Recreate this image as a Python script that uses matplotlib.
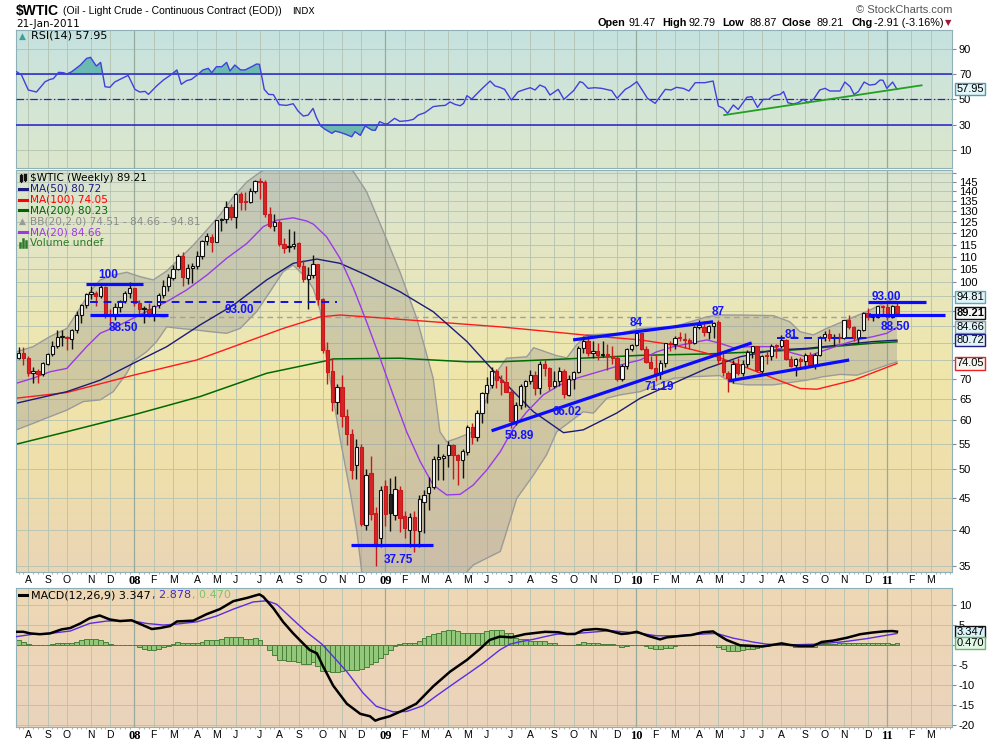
import numpy as np
import pandas as pd
import matplotlib
matplotlib.use("Agg")
import matplotlib.pyplot as plt
from matplotlib.colors import LinearSegmentedColormap
from matplotlib.lines import Line2D
from matplotlib.transforms import blended_transform_factory

W, H = 990, 744

# weekly $WTIC bars, first = week ending 27-Jul-2007, last = 21-Jan-2011
opens = [75.6, 77.0, 75.5, 71.5, 72.0, 71.1, 74.0, 76.7, 79.1, 81.6,
         81.7, 81.2, 83.7, 88.6, 91.9, 95.9, 96.3, 95.1, 98.2, 88.7,
         88.3, 91.3, 93.3, 96.0, 97.9, 92.7, 90.6, 90.7, 89.0, 91.8,
         95.5, 98.8, 101.8, 105.2, 110.2, 101.8, 105.6, 106.2, 110.1, 116.7,
         118.5, 116.3, 126.0, 126.3, 132.2, 127.4, 138.5, 134.9, 134.6, 140.2,
         145.3, 145.1, 128.9, 123.3, 125.1, 115.2, 113.8, 114.6, 115.5, 106.2,
         101.2, 102.7, 106.9, 93.9, 77.7, 71.9, 64.2, 67.8, 61.0, 57.0,
         50.9, 54.4, 40.7, 49.4, 42.6, 38.8, 47.1, 45.6, 42.3, 46.3,
         42.1, 40.0, 42.0, 39.8, 44.3, 45.9, 46.9, 52.0, 52.2, 52.7,
         54.7, 52.7, 51.8, 53.3, 58.6, 56.3, 61.7, 66.3, 68.4, 72.0,
         69.6, 69.2, 66.7, 59.9, 63.6, 68.1, 69.5, 70.9, 67.5, 73.9,
         72.7, 68.0, 69.3, 72.0, 66.0, 70.0, 71.8, 78.5, 80.5, 77.0,
         77.4, 76.4, 76.7, 76.1, 75.5, 69.9, 73.4, 78.1, 79.4, 82.8,
         78.0, 74.5, 72.9, 71.2, 74.1, 79.8, 79.7, 81.5, 81.2, 80.7,
         80.0, 84.9, 84.9, 83.2, 85.1, 86.2, 75.1, 71.6, 70.0, 74.0,
         71.5, 73.8, 77.2, 78.9, 72.1, 76.1, 76.0, 79.0, 79.0, 80.7,
         75.4, 73.5, 75.2, 74.6, 76.5, 73.7, 76.5, 81.6, 82.7, 81.3,
         81.7, 81.4, 86.9, 84.9, 81.5, 83.8, 89.2, 87.8, 88.0, 91.5,
         91.4, 88.0, 91.47]
highs = [78.8, 78.8, 76.0, 73.0, 72.5, 74.5, 77.0, 80.4, 83.9, 83.8,
         82.0, 84.0, 90.0, 92.2, 96.2, 98.6, 96.8, 99.3, 98.5, 90.5,
         92.5, 93.5, 97.0, 100.1, 98.0, 93.5, 91.5, 92.8, 92.0, 96.0,
         101.0, 103.1, 106.5, 111.0, 111.8, 107.0, 107.5, 112.2, 117.0, 119.9,
         119.5, 126.2, 127.0, 135.1, 133.5, 139.1, 139.9, 139.9, 142.0, 145.9,
         147.3, 146.0, 132.0, 128.6, 126.0, 118.0, 122.0, 121.0, 116.0, 108.5,
         106.0, 110.6, 107.0, 94.5, 80.3, 75.5, 68.5, 71.0, 62.5, 58.0,
         56.0, 55.0, 50.0, 52.5, 43.5, 47.0, 48.0, 48.5, 48.8, 47.0,
         42.8, 42.5, 42.8, 45.5, 46.4, 48.7, 52.6, 55.0, 53.0, 55.5,
         55.0, 53.0, 54.0, 59.0, 59.3, 62.3, 66.5, 70.3, 73.2, 72.5,
         71.0, 73.4, 67.5, 64.2, 68.5, 69.6, 72.3, 72.0, 74.7, 75.0,
         73.0, 72.0, 73.0, 72.5, 71.0, 72.0, 78.9, 82.0, 82.0, 80.5,
         80.0, 80.5, 79.5, 79.0, 76.0, 74.0, 78.5, 79.5, 83.5, 82.9,
         79.0, 76.0, 76.5, 75.0, 80.0, 80.5, 82.0, 83.2, 83.0, 81.5,
         85.0, 87.1, 86.5, 85.5, 86.2, 87.0, 77.6, 72.0, 75.0, 75.5,
         75.0, 77.8, 79.0, 79.0, 76.5, 77.5, 79.5, 79.5, 82.4, 81.0,
         76.0, 75.5, 75.8, 77.0, 77.3, 77.0, 82.0, 83.5, 84.0, 82.5,
         83.0, 87.0, 88.6, 85.0, 84.0, 89.5, 90.8, 89.0, 91.6, 91.8,
         92.6, 92.0, 92.79]
lows = [75.2, 73.5, 70.8, 69.0, 69.0, 70.8, 73.5, 76.0, 78.5, 79.0,
        77.9, 78.0, 83.0, 86.0, 91.0, 94.0, 91.5, 94.5, 87.5, 85.9,
        87.0, 89.5, 92.5, 94.5, 91.5, 88.8, 86.1, 88.0, 86.5, 91.0,
        94.5, 97.0, 101.0, 104.5, 98.7, 99.5, 99.6, 105.0, 109.0, 115.0,
        111.8, 116.0, 121.0, 124.5, 125.9, 122.3, 130.5, 130.8, 134.0, 139.0,
        136.2, 127.5, 122.5, 121.0, 114.6, 111.3, 112.0, 113.0, 105.5, 100.0,
        90.5, 101.5, 92.0, 77.0, 68.6, 62.0, 61.3, 58.5, 54.7, 48.3,
        48.3, 40.5, 40.0, 41.5, 35.0, 37.5, 40.5, 39.8, 41.5, 39.7,
        38.8, 37.5, 36.8, 37.5, 39.5, 43.0, 46.5, 48.0, 48.0, 50.5,
        48.3, 47.2, 48.5, 52.8, 55.0, 55.6, 59.5, 64.0, 67.6, 67.6,
        66.0, 66.5, 58.3, 59.0, 62.5, 63.0, 68.5, 66.0, 66.2, 70.6,
        67.1, 67.5, 68.0, 65.1, 65.6, 67.4, 71.5, 77.0, 76.0, 75.5,
        75.0, 75.8, 72.4, 74.0, 69.5, 69.5, 72.5, 77.5, 79.0, 77.8,
        74.2, 72.5, 69.5, 70.0, 73.0, 77.5, 78.0, 80.5, 78.5, 78.0,
        79.5, 84.0, 82.0, 81.0, 81.5, 74.0, 70.8, 66.7, 69.0, 71.0,
        70.8, 73.0, 75.5, 71.8, 71.5, 74.0, 75.0, 75.5, 78.5, 75.0,
        73.0, 70.8, 72.8, 72.6, 73.0, 72.5, 76.0, 80.5, 80.5, 79.0,
        80.0, 81.0, 84.0, 80.5, 80.0, 83.5, 87.0, 86.5, 87.5, 88.5,
        87.0, 87.5, 88.87]
closes = [77.02, 75.48, 71.47, 71.98, 71.09, 74.04, 76.70, 79.10, 81.62, 81.66,
          81.22, 83.69, 88.60, 91.86, 95.93, 96.32, 95.10, 98.18, 88.71, 88.28,
          91.27, 93.31, 96.00, 97.91, 92.69, 90.57, 90.71, 88.96, 91.77, 95.50,
          98.81, 101.84, 105.15, 110.21, 101.84, 105.62, 106.23, 110.14, 116.69, 118.52,
          116.32, 125.96, 126.29, 132.19, 127.35, 138.54, 134.86, 134.62, 140.21, 145.29,
          145.08, 128.88, 123.26, 125.10, 115.20, 113.77, 114.59, 115.46, 106.23, 101.18,
          102.70, 106.89, 93.88, 77.70, 71.85, 64.15, 67.81, 61.04, 57.04, 49.93,
          54.43, 40.81, 49.00, 42.36, 37.71, 46.34, 42.40, 42.60, 46.50, 41.70,
          40.20, 41.90, 40.00, 44.80, 45.50, 46.80, 52.00, 52.40, 52.60, 54.80,
          52.70, 51.80, 53.50, 58.60, 56.34, 61.67, 66.31, 68.44, 72.04, 69.55,
          69.16, 66.73, 59.89, 63.56, 68.05, 69.45, 70.93, 67.51, 73.89, 72.74,
          68.02, 69.29, 72.04, 66.02, 69.95, 71.77, 78.53, 80.50, 77.00, 77.43,
          76.35, 76.72, 76.05, 75.47, 69.87, 73.36, 78.05, 79.36, 82.75, 78.00,
          74.54, 72.89, 71.19, 74.13, 79.81, 79.66, 81.50, 81.24, 80.68, 80.00,
          84.87, 84.92, 83.24, 85.12, 86.15, 75.11, 71.61, 70.04, 73.97, 71.51,
          73.78, 77.18, 78.86, 72.14, 76.09, 76.01, 78.98, 78.95, 80.70, 75.39,
          73.46, 75.17, 74.60, 76.45, 73.66, 76.49, 81.58, 82.66, 81.25, 81.69,
          81.43, 86.85, 84.88, 81.51, 83.76, 89.19, 87.79, 88.02, 91.51, 91.38,
          88.03, 91.54, 89.21]

# overlays read at sample weeks (x = bar number)
ma20_x = [-0.5, 3.0, 6.5, 10.0, 14.1, 16.9, 21.0, 25.8, 30.7, 34.8,
          39.0, 43.1, 47.3, 50.7, 53.5, 56.9, 59.7, 61.1, 63.8, 66.6,
          69.4, 72.1, 74.9, 77.6, 80.4, 83.2, 85.9, 88.7, 91.5, 94.2,
          97.0, 99.8, 102.5, 105.3, 108.7, 112.2, 115.6, 119.1, 122.5, 126.0,
          128.8, 132.2, 135.7, 139.1, 142.6, 145.3, 148.1, 151.6, 156.4, 160.5,
          163.3, 166.1, 170.2, 173.7, 177.1, 179.9, 182.0]
ma20_y = [68.8, 70.1, 71.8, 72.7, 78.8, 82.8, 85.4, 89.2, 93.1, 97.2,
          102.7, 109.3, 115.5, 122.9, 125.9, 127.0, 125.5, 124.0, 118.4, 109.3,
          97.8, 86.4, 75.5, 65.9, 57.5, 51.5, 47.2, 45.5, 45.6, 47.2,
          49.9, 53.4, 58.2, 61.9, 65.9, 68.4, 70.1, 71.4, 72.7, 74.1,
          75.0, 77.3, 78.8, 79.8, 80.8, 79.8, 78.5, 78.8, 78.8, 76.9,
          75.9, 77.3, 79.3, 80.8, 81.8, 82.8, 84.66]
ma50_x = [-0.5, 10.0, 16.9, 23.8, 30.7, 37.6, 44.5, 51.4, 56.9, 61.8,
          66.6, 72.1, 79.0, 85.9, 92.9, 99.8, 106.7, 112.9, 117.0, 123.9,
          128.8, 135.7, 142.6, 149.5, 156.4, 163.3, 170.2, 177.1, 182.0]
ma50_y = [63.9, 66.7, 69.6, 74.1, 78.8, 85.4, 91.9, 100.9, 107.3, 109.0,
          107.3, 102.7, 96.6, 89.7, 80.3, 70.1, 61.9, 57.3, 57.9, 61.6,
          65.1, 68.8, 72.7, 75.9, 77.8, 78.3, 79.3, 80.3, 80.72]
ma100_x = [-0.5, 10.0, 23.8, 36.9, 44.5, 54.8, 62.5, 66.6, 72.1, 85.9, 99.8,
           113.6, 120.5, 128.8, 135.7, 142.6, 149.5, 156.4, 161.9, 165.4, 173.0, 182.0]
ma100_y = [65.1, 66.5, 70.9, 75.0, 78.8, 84.3, 88.0, 88.6, 88.0, 86.4, 84.8,
           82.8, 81.8, 80.8, 79.3, 76.9, 73.6, 70.1, 67.5, 67.3, 69.6, 74.05]
ma200_x = [-0.5, 10.0, 23.8, 37.6, 51.4, 63.8, 65.2, 79.0, 92.9, 99.8,
           113.6, 128.8, 142.6, 156.4, 163.3, 170.2, 177.0, 182.0]
ma200_y = [54.9, 57.5, 61.2, 65.5, 71.4, 74.8, 75.3, 75.5, 74.5, 74.5,
           75.3, 76.3, 76.7, 77.5, 78.1, 79.0, 79.8, 80.23]
bb_up_x = [-0.5, 3.0, 6.5, 10.0, 12.7, 14.8, 16.9, 19.6, 22.4, 25.2,
           27.9, 30.7, 33.4, 36.2, 39.0, 41.7, 44.5, 47.3, 50.0, 52.5,
           56.0, 60.0, 64.0, 67.0, 69.4, 72.1, 75.6, 79.0, 82.5, 85.9,
           87.3, 88.7, 90.8, 94.2, 97.0, 99.1, 101.1, 105.3, 106.7, 111.5,
           113.6, 115.6, 117.7, 124.6, 128.8, 135.7, 142.6, 145.3, 149.5, 156.4,
           159.8, 161.9, 164.7, 167.4, 171.6, 175.7, 178.5, 182.0]
bb_up_y = [77.3, 78.8, 81.8, 84.3, 90.8, 96.6, 100.9, 102.7, 103.8, 102.1,
           100.9, 104.3, 109.3, 114.8, 121.4, 128.3, 137.3, 145.1, 150.3, 154.0,
           155.0, 154.0, 156.0, 155.0, 150.6, 139.9, 120.6, 104.0, 87.5, 70.1,
           57.5, 55.4, 56.1, 57.5, 65.1, 71.8, 75.5, 75.9, 78.5, 76.2,
           75.6, 79.3, 82.3, 82.8, 84.3, 84.8, 88.0, 88.6, 88.6, 88.4,
           86.4, 83.3, 82.3, 84.3, 87.0, 89.7, 91.9, 94.81]
bb_lo_x = [-0.5, 3.0, 6.5, 10.0, 13.4, 16.9, 19.6, 22.4, 23.7, 26.5,
           28.6, 30.7, 33.4, 36.9, 39.7, 43.1, 45.9, 49.3, 52.1, 54.8,
           56.9, 59.7, 61.1, 62.5, 63.8, 65.2, 66.6, 68.7, 70.1, 71.1,
           74.0, 80.0, 86.0, 91.0, 94.2, 97.0, 99.8, 101.1, 103.2, 106.7,
           109.4, 111.5, 117.0, 119.1, 121.9, 124.6, 128.8, 135.7, 139.8, 145.3,
           148.1, 150.9, 156.4, 163.3, 166.7, 170.2, 173.7, 177.1, 179.9, 182.0]
bb_lo_y = [57.9, 59.3, 60.8, 62.3, 64.3, 64.7, 66.7, 71.4, 74.6, 77.3,
           80.3, 84.8, 84.3, 83.8, 83.3, 82.8, 84.3, 89.7, 96.6, 104.0,
           106.6, 101.5, 97.5, 90.0, 75.5, 65.1, 56.1, 46.0, 39.7, 34.2,
           31.0, 29.0, 30.0, 33.0, 35.1, 36.0, 36.9, 39.7, 44.9, 49.0,
           52.8, 57.5, 61.9, 61.6, 65.1, 65.9, 66.7, 70.1, 70.5, 70.8,
           68.8, 68.4, 68.4, 69.6, 70.5, 71.1, 70.9, 72.3, 73.6, 74.51]

rsi_x = [-0.4, 0.6, 2.0, 3.7, 5.5, 6.5, 7.2, 8.3, 9.3, 10.0,
         11.0, 12.8, 14.1, 14.9, 16.1, 17.0, 17.9, 18.9, 19.9, 21.3,
         22.7, 24.1, 25.1, 26.2, 26.9, 28.6, 30.0, 31.4, 32.8, 33.7,
         34.8, 35.8, 36.9, 38.2, 39.3, 40.0, 41.0, 42.1, 43.1, 43.8,
         44.8, 46.0, 46.9, 48.3, 49.3, 49.9, 50.9, 51.8, 52.8, 54.0,
         55.5, 56.9, 57.9, 59.0, 60.0, 61.0, 61.7, 62.6, 63.5, 64.9,
         65.6, 66.6, 67.6, 69.0, 69.7, 70.8, 71.8, 73.2, 73.9, 74.8,
         75.9, 76.5, 77.9, 79.0, 80.7, 81.8, 82.8, 84.2, 85.9, 87.3,
         88.4, 89.4, 90.4, 91.5, 92.2, 92.9, 93.9, 94.9, 96.3, 97.7,
         98.7, 99.7, 100.7, 102.1, 103.5, 104.9, 106.0, 107.0, 108.0, 109.1,
         110.1, 111.8, 113.0, 115.0, 116.3, 116.9, 118.0, 119.4, 120.8, 122.9,
         124.0, 125.7, 126.7, 128.1, 130.3, 131.9, 134.0, 135.2, 136.3, 137.7,
         138.9, 140.2, 142.2, 143.9, 145.0, 146.0, 146.9, 148.1, 149.1, 150.9,
         151.9, 153.1, 154.3, 155.4, 156.4, 157.8, 158.5, 159.4, 160.5, 161.5,
         162.6, 163.6, 164.8, 166.0, 167.1, 168.1, 170.2, 171.2, 172.3, 173.1,
         174.0, 175.2, 176.3, 177.5, 178.5, 179.1, 179.9, 181.1, 182.0]
rsi_y = [71.9, 69.3, 57.4, 55.8, 64.0, 65.8, 66.4, 71.4, 71.1, 70.1,
         71.9, 77.2, 82.5, 83.3, 76.4, 79.3, 60.0, 59.5, 63.7, 66.4,
         69.0, 57.9, 55.8, 56.3, 53.9, 60.6, 65.3, 69.0, 73.3, 61.9,
         64.8, 65.8, 69.0, 73.3, 74.6, 71.1, 75.9, 75.9, 79.3, 72.5,
         77.2, 73.3, 73.3, 75.9, 78.0, 77.8, 57.9, 53.9, 53.7, 45.7,
         45.2, 46.5, 40.7, 36.7, 37.5, 42.8, 35.7, 28.8, 26.2, 23.0,
         24.8, 23.8, 22.5, 20.3, 24.3, 21.4, 28.8, 25.6, 25.4, 32.3,
         30.4, 30.7, 34.9, 32.5, 33.1, 34.1, 37.5, 39.4, 44.2, 44.9,
         45.2, 47.9, 46.0, 44.9, 46.8, 52.9, 50.2, 54.2, 59.5, 64.5,
         60.6, 59.5, 57.9, 49.4, 56.0, 57.9, 59.2, 57.4, 61.3, 59.5,
         53.4, 57.9, 50.0, 56.9, 64.0, 63.2, 58.7, 59.2, 58.7, 56.9,
         50.8, 57.9, 60.0, 64.0, 50.8, 46.8, 57.9, 57.4, 59.5, 58.7,
         56.6, 63.2, 63.2, 64.5, 44.7, 42.9, 38.9, 45.5, 42.0, 51.6,
         52.1, 43.6, 50.0, 50.0, 52.9, 53.9, 56.1, 47.3, 46.3, 47.3,
         50.0, 47.3, 50.5, 57.4, 58.7, 56.6, 56.6, 63.7, 60.0, 53.9,
         56.1, 63.7, 61.3, 61.9, 65.3, 65.1, 58.7, 63.7, 57.95]

macd_x = [-0.4, 1.0, 2.4, 4.4, 6.5, 8.9, 10.7, 12.8, 14.7, 16.8,
          18.9, 21.0, 23.4, 25.2, 27.6, 29.3, 31.4, 32.8, 36.2, 38.9,
          41.7, 44.5, 47.3, 49.0, 49.9, 50.7, 52.8, 54.8, 56.9, 58.6,
          60.3, 61.8, 63.1, 65.2, 68.0, 70.8, 72.8, 73.9, 74.8, 76.9,
          79.7, 82.4, 85.9, 89.4, 92.9, 95.5, 97.6, 99.7, 102.1, 104.9,
          109.1, 111.8, 113.6, 115.3, 117.0, 119.7, 121.8, 124.9, 126.3, 128.1,
          130.5, 132.9, 134.3, 137.0, 139.4, 141.8, 143.9, 145.0, 146.7, 149.5,
          151.6, 154.0, 155.7, 158.1, 159.8, 161.8, 164.6, 166.4, 168.8, 171.6,
          174.4, 176.8, 179.2, 181.0, 182.0]
macd_y = [3.3, 3.3, 2.9, 2.7, 2.9, 3.9, 4.25, 5.4, 6.7, 7.4,
          6.4, 6.0, 6.2, 5.25, 4.0, 4.25, 4.75, 5.9, 6.1, 7.7,
          9.0, 11.0, 11.8, 12.4, 12.7, 12.1, 9.2, 5.8, 2.9, 0.8,
          -1.25, -2.1, -5.4, -10.25, -14.75, -17.3, -17.9, -19.0, -18.6, -17.9,
          -16.4, -14.75, -10.4, -6.7, -3.75, -1.1, 1.25, 2.1, 1.9, 2.7,
          3.3, 3.2, 2.75, 2.75, 3.75, 4.0, 3.75, 2.75, 2.9, 3.3,
          2.25, 1.4, 1.9, 2.25, 2.5, 3.2, 3.4, 2.5, 1.25, -0.1,
          -0.2, -0.4, -0.1, 0.4, 0.0, -0.25, -0.25, 0.75, 1.1, 1.8,
          2.7, 3.1, 3.4, 3.5, 3.347]
sig_x = [-0.4, 3.0, 6.5, 10.7, 14.7, 18.2, 23.4, 26.5, 30.0, 32.8,
         36.9, 41.0, 44.5, 48.6, 51.4, 53.5, 56.2, 59.6, 62.8, 65.2,
         68.0, 71.4, 74.1, 77.6, 80.4, 83.8, 86.6, 90.1, 93.5, 96.2,
         99.7, 101.8, 103.9, 106.6, 109.1, 111.5, 115.6, 119.7, 122.5, 125.3,
         128.8, 132.2, 136.3, 141.2, 144.6, 148.1, 152.3, 155.0, 159.1, 165.3,
         170.9, 175.8, 182.0]
sig_y = [2.1, 2.7, 2.9, 3.5, 5.4, 6.0, 6.1, 5.4, 5.0, 5.25,
         5.8, 7.25, 9.0, 10.8, 11.1, 10.2, 7.1, 3.3, 0.25, -2.9,
         -6.7, -12.1, -15.4, -16.8, -16.7, -15.25, -12.75, -9.75, -6.9, -4.6,
         -1.25, 0.2, 0.8, 1.4, 2.1, 2.7, 2.9, 3.3, 3.6, 3.3,
         2.9, 2.3, 2.3, 2.7, 2.9, 1.7, 0.7, 0.2, 0.0, 0.2,
         0.8, 1.6, 2.878]
hist = [1.2, 0.75, 0.3, 0, -0.05, 0, 0.05, 0.15, 0.4, 0.4,
        0.5, 0.5, 0.75, 1.2, 1.5, 1.6, 1.6, 1.3, 0.75, 0.3,
        0.1, -0.1, 0, 0, -0.1, -0.5, -1.1, -1.3, -1.3, -1.0,
        -0.5, -0.2, 0.3, 0.7, 0.4, 0.4, 0.4, 0.4, 0.75, 1.2,
        1.2, 1.3, 1.6, 1.9, 1.9, 1.9, 1.9, 1.5, 1.5, 1.7,
        1.3, 0, -1.3, -2.5, -3.8, -3.8, -4.1, -4.1, -4.3, -4.7,
        -4.7, -4.4, -5.25, -6.5, -6.5, -6.9, -6.9, -6.5, -6.3, -6.3,
        -6.3, -6.1, -5.5, -4.8, -4.2, -3.3, -2.3, -1.3, -0.3, 0.2,
        0.6, 0.6, 0.6, 1.0, 1.7, 2.25, 2.7, 3.1, 3.5, 3.7,
        3.7, 3.5, 3.1, 3.1, 3.1, 3.1, 3.1, 3.5, 3.7, 3.7,
        3.7, 3.1, 3.1, 1.7, 1.4, 1.4, 1.0, 1.0, 1.0, 1.0,
        0.5, 0.5, 0.1, -0.1, -0.1, -0.1, 0.2, 0.7, 0.5, 0.5,
        0.4, 0.25, 0.25, 0.25, -0.1, -0.5, -0.25, 0.1, 0.1, 0.0,
        -0.25, -0.7, -1.1, -1.1, -0.7, -0.7, -0.3, -0.1, 0.1, 0.1,
        0.1, 0.1, 0.1, 0.1, 0.1, -0.4, -1.1, -1.6, -1.6, -1.6,
        -1.3, -0.9, -0.9, -0.75, -0.3, -0.3, 0.1, 0.1, 0.1, 0.1,
        0.1, -0.4, -0.4, -0.4, -0.4, -0.4, 0.3, 0.3, 0.3, 0.3,
        0.5, 0.5, 0.5, 0.5, 0.5, 0.6, 0.6, 0.6, 0.6, 0.6,
        0.6, 0.3, 0.47]

# hand-drawn annotations: (x0, y0, x1, y1)
solid_lines = [(14.0, 99.5, 25.8, 99.5), (14.8, 88.5, 31.0, 88.5), (68.9, 37.75, 85.9, 37.75),
               (98.0, 57.7, 151.9, 79.9), (114.9, 80.8, 143.9, 86.4), (147.1, 69.4, 172.1, 75.0),
               (175.9, 93.0, 188.0, 93.0), (175.9, 88.5, 192.0, 88.5)]
dashed_lines = [(14.8, 93.0, 66.0, 93.0), (157.1, 81.4, 175.9, 81.4)]
notes = [("100", 18.5, 102.7), ("88.50", 21.7, 84.3), ("93.00", 45.7, 90.3), ("37.75", 78.7, 35.8),
         ("59.89", 103.7, 56.5), ("66.02", 113.6, 61.9), ("84", 127.9, 85.9), ("71.19", 132.7, 67.9),
         ("87", 145.0, 89.7), ("81", 160.1, 82.3), ("93.00", 179.7, 94.8), ("88.50", 181.6, 84.7)]

x = np.arange(len(closes))
o, h, l, c = map(np.array, (opens, highs, lows, closes))

# month ticks: first weekly bar that starts inside the month
weeks = pd.date_range("2007-07-27", periods=200, freq="W-FRI")
tick_pos, tick_lab, seen = [], [], set()
for k, d in enumerate(weeks):
    if k < 1 or k > 191:
        continue
    if d.day >= 5 and (d.year, d.month) not in seen:
        seen.add((d.year, d.month))
        tick_pos.append(k)
        tick_lab.append("%02d" % (d.year % 100) if d.month == 1 else "JFMAMJJASOND"[d.month - 1])
year_pos = [p for p, s in zip(tick_pos, tick_lab) if s.isdigit()]

fig = plt.figure(figsize=(W / 100, H / 100), dpi=100)
L, R = 16, 952
GRID = "#b4c2b0"
FRAME = "#8fb0b6"


def panel(top, bottom, colors):
    pos = [L / W, 1 - bottom / H, (R - L) / W, (bottom - top) / H]
    bg = fig.add_axes(pos, zorder=0)
    grad = np.linspace(0, 1, 256).reshape(-1, 1)
    bg.imshow(grad, aspect="auto", cmap=LinearSegmentedColormap.from_list("g", colors),
              extent=[0, 1, 0, 1], origin="upper")
    bg.set_axis_off()
    ax = fig.add_axes(pos, zorder=1)
    ax.patch.set_alpha(0)
    ax.set_xlim(-0.54, 193.4)
    ax.set_xticks(tick_pos)
    ax.set_xticks(np.arange(0, 194), minor=True)
    ax.grid(True, color=GRID, lw=0.6)
    ax.set_axisbelow(True)
    for p in year_pos:
        ax.axvline(p, color="#97ab9c", lw=0.9, zorder=0.6)
    for s in ax.spines.values():
        s.set_color(FRAME)
    ax.yaxis.tick_right()
    ax.tick_params(axis="y", length=3, pad=2, labelsize=8, color="#888888")
    ax.tick_params(axis="x", which="major", length=0, pad=2.5, labelsize=7.5)
    ax.tick_params(axis="x", which="minor", length=1.5, width=0.8, color="#9fb5bb")
    for t in ax.get_yticklabels():
        t.set_fontfamily("Liberation Sans")
    return ax


def tag(ax, y, text, fc, ec, bold=False):
    tr = blended_transform_factory(ax.transAxes, ax.transData)
    ax.text(1.0045, y, text, transform=tr, ha="left", va="center", fontsize=8,
            family="Liberation Sans", fontweight="bold" if bold else "normal",
            bbox=dict(boxstyle="square,pad=0.1", fc=fc, ec=ec, lw=1), clip_on=False, zorder=20)


def month_labels(ax):
    ax.set_xticklabels(tick_lab)
    for t, s in zip(ax.get_xticklabels(), tick_lab):
        t.set_fontfamily("Liberation Serif" if s.isdigit() else "Liberation Sans")
        if s.isdigit():
            t.set_fontweight("bold")
            t.set_fontsize(9)


def icon_line(x0, x1, y0, y1, col, lw):
    fig.add_artist(Line2D([x0 / W, x1 / W], [1 - y0 / H, 1 - y1 / H], color=col, lw=lw, zorder=30))


# ---- RSI panel ----
ax_r = panel(30, 168, ["#c5e2e0", "#d2e5d6", "#dbe7cc"])
ax_r.set_ylim(-4.5, 105)
ax_r.set_yticks([10, 30, 50, 70, 90])
ax_r.set_yticklabels(["10", "30", "50", "70", "90"])
ax_r.set_xticklabels([])
ax_r.tick_params(axis="x", which="minor", length=0)
ry = np.array(rsi_y)
ax_r.fill_between(rsi_x, ry, 70, where=ry >= 70, interpolate=True, color="#6cb9b2", lw=0, zorder=2)
ax_r.fill_between(rsi_x, ry, 30, where=ry <= 30, interpolate=True, color="#6cb9b2", lw=0, zorder=2)
ax_r.axhline(70, color="#2222cc", lw=1.1, zorder=3)
ax_r.axhline(30, color="#2222cc", lw=1.1, zorder=3)
ax_r.axhline(50, color="#2222cc", lw=0.9, ls=(0, (6, 2, 1, 2)), zorder=3)
ax_r.plot(rsi_x, ry, color="#4040dd", lw=1, zorder=4)
ax_r.plot([146.2, 187.1], [37.5, 61.1], color="#22a022", lw=1.3, zorder=5)
tag(ax_r, 57.95, "57.95", "#e2f5f8", "#4aa0b0")
fig.text(19 / W, 1 - 36 / H, "\u25B2", fontsize=6.5, color="#3f9f9a", va="center", zorder=30)
fig.text(31.5 / W, 1 - 36 / H, "RSI(14) 57.95", fontsize=8, va="center",
         family="DejaVu Sans", zorder=30)

# ---- price panel ----
ax_p = panel(170, 572, ["#d9e4d1", "#e6e6c0", "#f0e6aa", "#efdfac", "#ead5b5"])
ax_p.set_yscale("log")
ax_p.set_ylim(34.2, 151.6)
pt = list(range(35, 151, 5))
ax_p.set_yticks(pt)
ax_p.set_yticklabels([str(v) if (v <= 70 or 100 <= v <= 145) else "" for v in pt])
ax_p.yaxis.set_minor_locator(matplotlib.ticker.NullLocator())
month_labels(ax_p)

ax_p.fill(np.r_[bb_up_x, bb_lo_x[::-1]], np.r_[bb_up_y, bb_lo_y[::-1]],
          color="#8f8f8f", alpha=0.33, lw=0, zorder=1)
ax_p.plot(bb_up_x, bb_up_y, color="#9a9a9a", lw=1, zorder=1.5)
ax_p.plot(bb_lo_x, bb_lo_y, color="#9a9a9a", lw=1, zorder=1.5)
ax_p.plot([29.3, 176.4], [87.8, 87.8], color="#a0a0a0", lw=1, ls=(0, (4, 3)), zorder=1.6)
ax_p.plot(ma200_x, ma200_y, color="#006a00", lw=1.1, zorder=2)
ax_p.plot(ma100_x, ma100_y, color="#ff1a1a", lw=1, zorder=2)
ax_p.plot(ma50_x, ma50_y, color="#1c1c78", lw=1, zorder=2)
ax_p.plot(ma20_x, ma20_y, color="#9a3ae6", lw=1, zorder=2)

prev = np.r_[o[0], c[:-1]]
edge = np.where(c < prev, "#c8181c", "#111111")
fill = np.where(c > o, "white", np.where(c < prev, "#d42424", "#222222"))
ax_p.vlines(x, l, h, colors=edge, lw=1, zorder=3)
bot = np.minimum(o, c)
top = np.maximum(np.maximum(o, c), bot * 1.004)
ax_p.bar(x, top - bot, bottom=bot, width=0.68, color=fill, edgecolor=edge, lw=0.8, zorder=4)

for x0, y0, x1, y1 in solid_lines:
    ax_p.plot([x0, x1], [y0, y1], color="#0a0aff", lw=2.3, zorder=5, solid_capstyle="butt")
for x0, y0, x1, y1 in dashed_lines:
    ax_p.plot([x0, x1], [y0, y1], color="#1010e6", lw=1.4, ls=(0, (4, 3)), zorder=5)
for s, nx, ny in notes:
    ax_p.text(nx, ny, s, color="#1414ff", fontsize=8.5, fontweight="bold", ha="center",
              va="center", family="Liberation Sans", zorder=6)

tag(ax_p, 94.81, "94.81", "#dff3f8", "#5fa9b8")
tag(ax_p, 89.21, "89.21", "#f6f6f6", "#111111", bold=True)
tag(ax_p, 84.66, "84.66", "#dff3f8", "#8aa0b0")
tag(ax_p, 80.72, "80.72", "#dff3f8", "#1c1c88")
tag(ax_p, 74.05, "74.05", "#f5f5f0", "#ee2020")

legend = [("$WTIC (Weekly) 89.21", "#000000"), ("MA(50) 80.72", "#1c1c80"),
          ("MA(100) 74.05", "#ff0000"), ("MA(200) 80.23", "#006400"),
          ("BB(20,2.0) 74.51 - 84.66 - 94.81", "#8c8c8c"), ("MA(20) 84.66", "#9a3ae6"),
          ("Volume undef", "#2a7a2a")]
for k, (s, col) in enumerate(legend):
    yp = 177.7 + 10.9 * k
    fig.text(30 / W, 1 - yp / H, s, color=col, fontsize=7.6, va="center", family="DejaVu Sans", zorder=30)
    if k in (1, 2, 3, 5):
        icon_line(19, 27, yp, yp, col, 2.2)
    elif k == 4:
        fig.text(18.5 / W, 1 - yp / H, "\u25B2", color="#9a9a9a", fontsize=6.5, va="center", zorder=30)
    elif k == 6:
        for xi, hh in ((20, 2.5), (23, 4.5), (26, 3.5)):
            icon_line(xi, xi, yp + 3.5, yp + 3.5 - hh * 1.6, col, 1.8)
    else:
        icon_line(20.5, 20.5, yp - 4, yp + 4, "#111111", 0.8)
        icon_line(20.5, 20.5, yp - 2, yp + 2, "#111111", 2.4)
        icon_line(25, 25, yp - 4, yp + 3, "#111111", 0.8)
        icon_line(25, 25, yp - 2.5, yp + 1, "#111111", 2.4)

# ---- MACD panel ----
ax_m = panel(588, 727, ["#efd8b4", "#ead3bc"])
ax_m.set_ylim(-20.6, 14.3)
mt = [-20, -15, -10, -5, 0, 5, 10]
ax_m.set_yticks(mt)
ax_m.set_yticklabels([str(v) if v != 0 else "" for v in mt])
month_labels(ax_m)
ax_m.bar(x, hist, width=1.0, color="#93c77a", edgecolor="#4a7f3a", lw=0.7, zorder=2)
ax_m.plot(sig_x, sig_y, color="#5a2de0", lw=1.0, zorder=3)
ax_m.plot(macd_x, macd_y, color="#000000", lw=1.8, zorder=4)
tag(ax_m, 3.347, "3.347", "#d8f2f8", "#111111")
tag(ax_m, 0.47, "0.470", "#e2f6e6", "#66bb66")
icon_line(19, 27, 595, 595, "black", 2.2)
fig.text(31.5 / W, 1 - 595 / H, "MACD(12,26,9) 3.347", fontsize=8, va="center",
         family="DejaVu Sans", zorder=30)
fig.text(151.5 / W, 1 - 595 / H, ", 2.878", fontsize=8, va="center", color="#3a2ad8",
         family="DejaVu Sans", zorder=30)
fig.text(191.5 / W, 1 - 595 / H, ", 0.470", fontsize=8, va="center", color="#7cc46a",
         family="DejaVu Sans", zorder=30)

# ---- header ----
fig.text(16 / W, 1 - 11 / H, "$WTIC", fontsize=10, fontweight="bold", va="center",
         family="Liberation Sans")
fig.text(62.5 / W, 1 - 11 / H, "(Oil - Light Crude - Continuous Contract (EOD))", fontsize=7.5,
         va="center", family="Liberation Sans")
fig.text(292 / W, 1 - 11 / H, "INDX", fontsize=6.6, va="center", family="DejaVu Sans")
fig.text(16 / W, 1 - 24 / H, "21-Jan-2011", fontsize=7.5, va="center", family="DejaVu Sans")
fig.text(952 / W, 1 - 10 / H, "\u00A9 StockCharts.com", fontsize=8, va="center", ha="right",
         color="#555555", family="Liberation Sans")
ohlc = [("Open", 597, True), ("91.47", 628.5, False), ("High", 662, True), ("92.79", 688.5, False),
        ("Low", 722, True), ("88.87", 749.5, False), ("Close", 782, True), ("89.21", 816.5, False),
        ("Chg", 851, True), ("-2.91 (-3.16%)", 874.5, False)]
for s, xp, b in ohlc:
    fig.text(xp / W, 1 - 23 / H, s, fontsize=7.8, va="center", family="Liberation Sans",
             fontweight="bold" if b else "normal")
fig.text(945 / W, 1 - 23 / H, "\u25BC", fontsize=6, va="center", color="#a01830")

fig.savefig("out.png", dpi=100)
